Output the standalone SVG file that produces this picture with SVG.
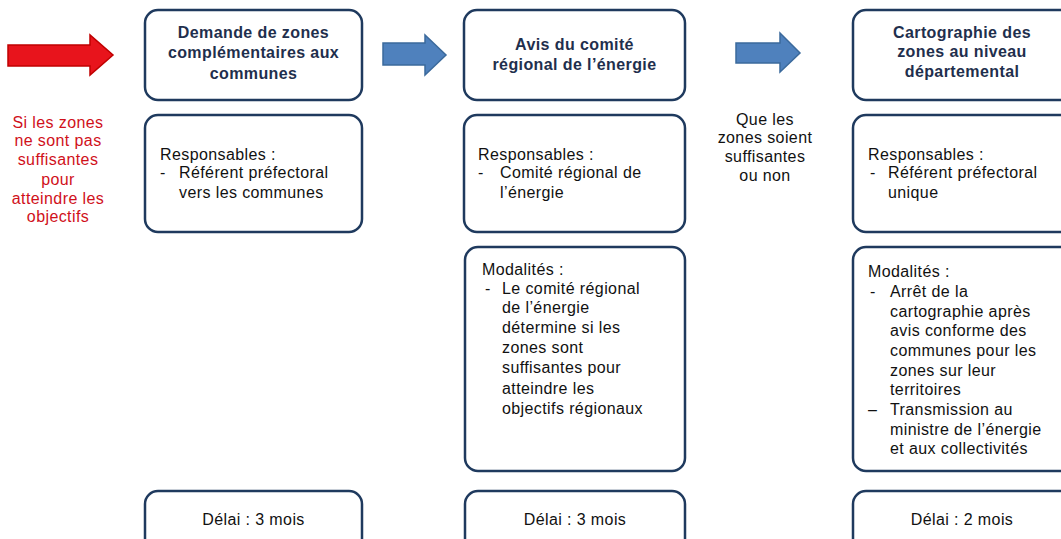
<svg xmlns="http://www.w3.org/2000/svg" width="1061" height="539" viewBox="0 0 1061 539">
<style>
.box{fill:#fff;stroke:#1f3a5e;stroke-width:2.5}
.hd{font-family:"Liberation Sans",Arial,sans-serif;font-size:16px;font-weight:bold;fill:#1f2f4d;text-anchor:middle;letter-spacing:0.4px}
.tx{font-family:"Liberation Sans",Arial,sans-serif;font-size:16px;fill:#111;letter-spacing:0.4px}
.ct{text-anchor:middle}
.red{fill:#d0101a}
.barrow{fill:#4f81bd;stroke:#3b6a9c;stroke-width:1.5}
.rarrow{fill:#e8141c;stroke:#c00000;stroke-width:1.5}
</style>
<rect width="1061" height="539" fill="#fff"/>
<g id="connectors">
<path class="rarrow" d="M8,45 H90 V35 L113,55 L90,75 V66 H8 Z"/>
<path class="barrow" d="M383,43 H425 V35 L446,55 L425,75 V65 H383 Z"/>
<path class="barrow" d="M736,43 H780 V33 L800,53 L780,72 V63 H736 Z"/>
</g>
<g id="label-left">
<text class="tx ct red" x="58" y="128">Si les zones</text>
<text class="tx ct red" x="58" y="146">ne sont pas</text>
<text class="tx ct red" x="58" y="165">suffisantes</text>
<text class="tx ct red" x="58" y="185">pour</text>
<text class="tx ct red" x="58" y="204">atteindre les</text>
<text class="tx ct red" x="58" y="222">objectifs</text>
</g>
<g id="label-mid">
<text class="tx ct" x="765" y="125">Que les</text>
<text class="tx ct" x="765" y="143">zones soient</text>
<text class="tx ct" x="765" y="162">suffisantes</text>
<text class="tx ct" x="765" y="181">ou non</text>
</g>
<g id="col1-header">
<rect class="box" x="145" y="10" width="217" height="90" rx="13"/>
<text class="hd" x="253.5" y="38">Demande de zones</text>
<text class="hd" x="253.5" y="58">complémentaires aux</text>
<text class="hd" x="253.5" y="79">communes</text>
</g>
<g id="col1-resp">
<rect class="box" x="145" y="115" width="217" height="117" rx="13"/>
<text class="tx" x="160" y="160">Responsables :</text>
<text class="tx" x="160" y="178">-</text>
<text class="tx" x="179" y="178">Référent préfectoral</text>
<text class="tx" x="179" y="198">vers les communes</text>
</g>
<g id="col1-delai">
<rect class="box" x="145" y="491" width="217" height="80" rx="13"/>
<text class="tx ct" x="253.5" y="525">Délai : 3 mois</text>
</g>
<g id="col2-header">
<rect class="box" x="464" y="10" width="221" height="90" rx="13"/>
<text class="hd" x="574.5" y="50">Avis du comité</text>
<text class="hd" x="574.5" y="70">régional de l’énergie</text>
</g>
<g id="col2-resp">
<rect class="box" x="464" y="115" width="221" height="117" rx="13"/>
<text class="tx" x="478" y="160">Responsables :</text>
<text class="tx" x="478" y="178">-</text>
<text class="tx" x="500" y="178">Comité régional de</text>
<text class="tx" x="500" y="198">l’énergie</text>
</g>
<g id="col2-modalites">
<rect class="box" x="465" y="247" width="220" height="224" rx="13"/>
<text class="tx" x="482" y="275">Modalités :</text>
<text class="tx" x="485" y="294">-</text>
<text class="tx" x="502" y="294">Le comité régional</text>
<text class="tx" x="502" y="313">de l’énergie</text>
<text class="tx" x="502" y="333">détermine si les</text>
<text class="tx" x="502" y="353">zones sont</text>
<text class="tx" x="502" y="373">suffisantes pour</text>
<text class="tx" x="502" y="394">atteindre les</text>
<text class="tx" x="502" y="414">objectifs régionaux</text>
</g>
<g id="col2-delai">
<rect class="box" x="465" y="491" width="220" height="80" rx="13"/>
<text class="tx ct" x="575" y="525">Délai : 3 mois</text>
</g>
<g id="col3-header">
<rect class="box" x="853" y="10" width="220" height="90" rx="13"/>
<text class="hd" x="962" y="38">Cartographie des</text>
<text class="hd" x="962" y="57">zones au niveau</text>
<text class="hd" x="962" y="77">départemental</text>
</g>
<g id="col3-resp">
<rect class="box" x="853" y="115" width="220" height="117" rx="13"/>
<text class="tx" x="868" y="160">Responsables :</text>
<text class="tx" x="870" y="178">-</text>
<text class="tx" x="888" y="178">Référent préfectoral</text>
<text class="tx" x="888" y="198">unique</text>
</g>
<g id="col3-modalites">
<rect class="box" x="853" y="247" width="220" height="224" rx="13"/>
<text class="tx" x="868" y="277">Modalités :</text>
<text class="tx" x="870" y="297">-</text>
<text class="tx" x="890" y="297">Arrêt de la</text>
<text class="tx" x="890" y="317">cartographie après</text>
<text class="tx" x="890" y="336">avis conforme des</text>
<text class="tx" x="890" y="356">communes pour les</text>
<text class="tx" x="890" y="376">zones sur leur</text>
<text class="tx" x="890" y="395">territoires</text>
<text class="tx" x="868" y="415">–</text>
<text class="tx" x="890" y="415">Transmission au</text>
<text class="tx" x="890" y="435">ministre de l’énergie</text>
<text class="tx" x="890" y="454">et aux collectivités</text>
</g>
<g id="col3-delai">
<rect class="box" x="853" y="491" width="220" height="80" rx="13"/>
<text class="tx ct" x="962" y="525">Délai : 2 mois</text>
</g>
</svg>
